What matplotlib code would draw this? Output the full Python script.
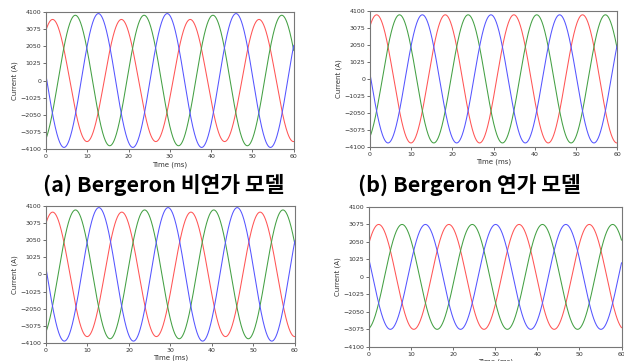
import numpy as np
import matplotlib
matplotlib.use("Agg")
import matplotlib.pyplot as plt

# three-phase currents, 60 Hz; amplitude (A) and time of first peak (ms)
freq_hz = 60.0
phase_names = ["A", "B", "C"]
phase_colors = ["#ff5555", "#44a044", "#5555ff"]

amp_a = [3650, 3900, 4000]
peak_a = [1.6, 7.1, 12.7]
amp_b = [3860, 3860, 3860]
peak_b = [1.6, 7.15, 12.7]
amp_c = [3720, 3850, 3990]
peak_c = [1.6, 7.1, 12.75]
amp_d = [3070, 3070, 3070]
peak_d = [2.35, 7.9, 13.45]

yticks = [-4100, -3075, -2050, -1025, 0, 1025, 2050, 3075, 4100]
xticks = [0, 10, 20, 30, 40, 50, 60]

captions = ["(a) Bergeron 비연가 모델", "(b) Bergeron 연가 모델"]

# axes boxes in figure fractions
boxes = [
    [0.0737, 0.587, 0.397, 0.380],
    [0.593, 0.593, 0.396, 0.377],
    [0.0737, 0.050, 0.399, 0.380],
    [0.591, 0.039, 0.405, 0.388],
]

t = np.linspace(0, 60, 1200)

fig = plt.figure(figsize=(6.24, 3.61), dpi=100)

panels = [(amp_a, peak_a), (amp_b, peak_b), (amp_c, peak_c), (amp_d, peak_d)]
for box, (amps, peaks) in zip(boxes, panels):
    ax = fig.add_axes(box)
    for amp, tp, col in zip(amps, peaks, phase_colors):
        i = amp * np.cos(2 * np.pi * freq_hz * (t - tp) / 1000.0)
        ax.plot(t, i, color=col, lw=0.75)
    ax.set_xlim(0, 60)
    ax.set_ylim(-4100, 4100)
    ax.set_xticks(xticks)
    ax.set_yticks(yticks)
    ax.tick_params(labelsize=4.5, length=2, width=0.5, pad=1.5, colors="#333333")
    for s in ax.spines.values():
        s.set_color("#777777")
        s.set_linewidth(0.8)
    ax.set_xlabel("Time (ms)", fontsize=5, labelpad=1.5, color="#333333")
    ax.set_ylabel("Current (A)", fontsize=5, labelpad=1.5, color="#333333")

fig.text(0.263, 0.487, captions[0], ha="center", va="center",
         fontsize=15.5, fontweight="bold", family=["Noto Sans CJK KR", "DejaVu Sans"])
fig.text(0.752, 0.487, captions[1], ha="center", va="center",
         fontsize=15.5, fontweight="bold", family=["Noto Sans CJK KR", "DejaVu Sans"])

fig.savefig("out.png", dpi=100)
